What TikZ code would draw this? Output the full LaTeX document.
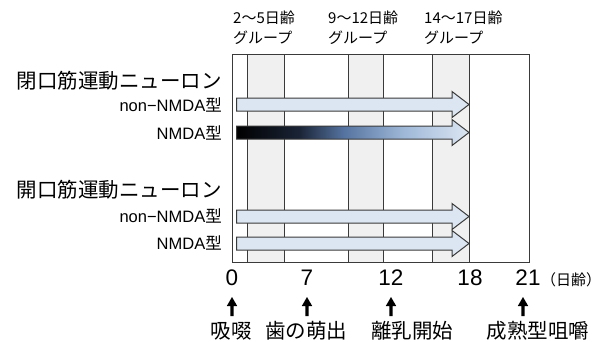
\documentclass[tikz,border=0pt]{standalone}
\usepackage{fontspec}
\setmainfont{Liberation Sans}
\newfontfamily\jp{Noto Sans CJK JP}
\usetikzlibrary{arrows.meta}
\definecolor{arrowfill}{HTML}{DCE6F2}
\definecolor{band}{HTML}{F0F0F0}
\definecolor{edge}{HTML}{3A3A3A}
\definecolor{gA}{HTML}{1A2436}
\definecolor{gB}{HTML}{5573A0}
\definecolor{gC}{HTML}{9FB8D8}
\pgfdeclarehorizontalshading{nmda}{100bp}{color(0bp)=(black); color(25bp)=(black); color(38.5bp)=(gA); color(48bp)=(gB); color(61bp)=(gC); color(75bp)=(arrowfill); color(100bp)=(arrowfill)}
\tikzset{
  frameline/.style={draw=edge, line width=1pt},
  bigjp/.style={font=\fontsize{20.5}{24}\selectfont\jp, inner sep=0pt},
  typelab/.style={font=\fontsize{16.5}{18}\selectfont, inner sep=0pt, anchor=east},
  toplab/.style={font=\fontsize{15}{20}\selectfont\jp, inner sep=0pt, anchor=north west, align=left},
  daynum/.style={font=\fontsize{22.5}{24}\selectfont, inner sep=0pt},
  evarrow/.style={fill=black},
}
\newcommand{\barrow}[3]{% x0, center y, tip x
  (#1,#2-6.5) -- (#3-17,#2-6.5) -- (#3-17,#2-13) -- (#3,#2) -- (#3-17,#2+13) -- (#3-17,#2+6.5) -- (#1,#2+6.5) -- cycle}
\newcommand{\uparr}[1]{% start at named base coordinate
  \fill[evarrow] (#1) ++(-1.6,0) -- ++(0,-10) -- ++(-3.6,0) -- ++(5.2,-9) -- ++(5.2,9) -- ++(-3.6,0) -- ++(0,10) -- cycle;}
\begin{document}
\begin{tikzpicture}[x=1pt,y=-1pt]
\useasboundingbox (0,0) rectangle (600,341);
% grey bands
\fill[band] (247,54) rectangle (284,262);
\fill[band] (348,54) rectangle (383,262);
\fill[band] (432,54) rectangle (469,262);
% vertical lines
\foreach \x in {247,284,348,383,432,469} \draw[frameline] (\x,54) -- (\x,262);
\draw[frameline] (232,54) rectangle (529,262);
% arrows
\filldraw[fill=arrowfill, draw=edge, line width=1pt] \barrow{236.5}{104.5}{469};
\shade[shading=nmda] \barrow{236.5}{132.5}{469};
\draw[draw=edge, line width=1pt] \barrow{236.5}{132.5}{469};
\filldraw[fill=arrowfill, draw=edge, line width=1pt] \barrow{236.5}{216.5}{469};
\filldraw[fill=arrowfill, draw=edge, line width=1pt] \barrow{236.5}{243.5}{469};
% left labels
\node[bigjp, anchor=east] (close) at (222,81) {閉口筋運動ニューロン};
\node[typelab] (c1) at (222,105) {non−NMDA{\jp 型}};
\node[typelab] (c2) at (222,133) {NMDA{\jp 型}};
\node[bigjp, anchor=east] (open) at (222,190) {開口筋運動ニューロン};
\node[typelab] (o1) at (222,216) {non−NMDA{\jp 型}};
\node[typelab] (o2) at (222,243) {NMDA{\jp 型}};
% top labels
\node[toplab] (t1) at (233,11) {2～5日齢\\グループ};
\node[toplab] (t2) at (328,11) {9～12日齢\\グループ};
\node[toplab] (t3) at (424,11) {14～17日齢\\グループ};
% day numbers
\node[daynum] (d0) at (232,278) {0};
\node[daynum] (d7) at (307,278) {7};
\node[daynum] (d12) at (391,278) {12};
\node[daynum] (d18) at (470,278) {18};
\node[daynum] (d21) at (528,278) {21};
\node[font=\fontsize{15}{16}\selectfont\jp, inner sep=0pt, anchor=west] (unit) at (541,280) {（日齢）};
% bottom labels
\node[bigjp] (e0) at (231,331) {吸啜};
\node[bigjp] (e7) at (306,331) {歯の萌出};
\node[bigjp] (e12) at (412,331) {離乳開始};
\node[bigjp] (e21) at (538,331) {成熟型咀嚼};
\coordinate (b0) at (232,316);
\coordinate (b7) at (307,316);
\coordinate (b12) at (391,316);
\coordinate (b21) at (523,316);
\uparr{b0}
\uparr{b7}
\uparr{b12}
\uparr{b21}
\end{tikzpicture}
\end{document}
